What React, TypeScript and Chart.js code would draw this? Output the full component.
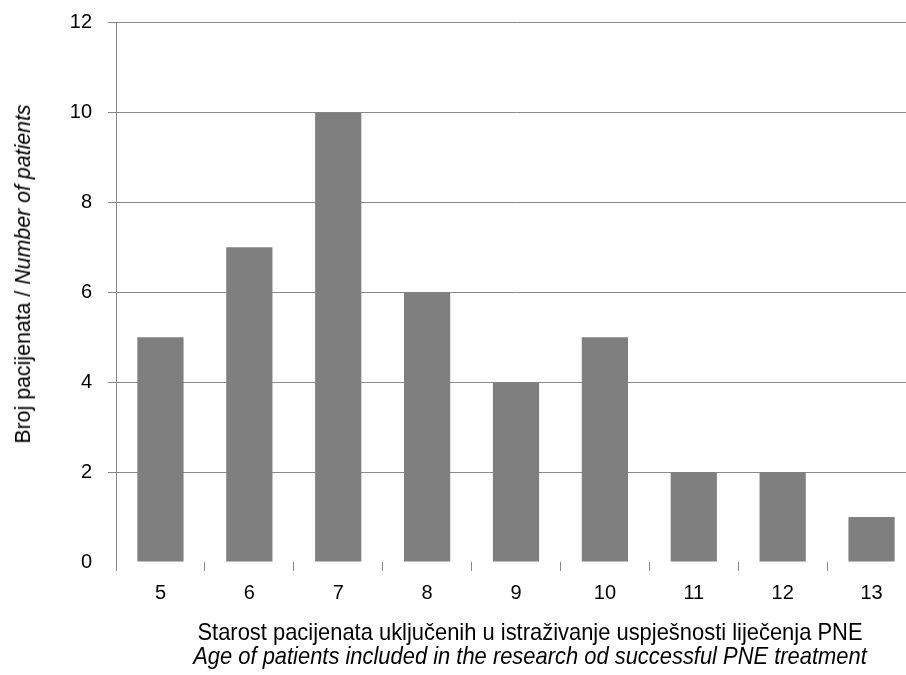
import React, { useEffect, useRef } from "react";
import { Chart, registerables } from "chart.js";

Chart.register(...registerables);

const categories = ["5", "6", "7", "8", "9", "10", "11", "12", "13"];
const patients = [5, 7, 10, 6, 4, 5, 2, 2, 1];
const yTicks = [0, 2, 4, 6, 8, 10, 12];
const yTitleNormal = "Broj pacijenata / ";
const yTitleItalic = "Number of patients";
const xTitleLine1 = "Starost pacijenata uključenih u istraživanje uspješnosti liječenja PNE";
const xTitleLine2 = "Age of patients included in the research od successful PNE treatment";

const FONT = "'Liberation Sans', Arial, sans-serif";
const GRID = "#888888";

export default function App() {
  const ref = useRef<HTMLCanvasElement | null>(null);

  useEffect(() => {
    if (!ref.current) return;
    document.body.style.margin = "0";
    const chart = new Chart(ref.current, {
      type: "bar",
      data: {
        labels: categories,
        datasets: [
          {
            data: patients,
            backgroundColor: "#7f7f7f",
            borderWidth: 0,
            barPercentage: 0.52,
            categoryPercentage: 1,
          },
        ],
      },
      options: {
        animation: false,
        responsive: false,
        devicePixelRatio: 1,
        layout: { padding: { top: 22.5, left: 0, right: 0, bottom: 0 } },
        plugins: { legend: { display: false }, tooltip: { enabled: false } },
        scales: {
          x: {
            offset: true,
            grid: {
              offset: true,
              drawOnChartArea: false,
              drawTicks: true,
              tickLength: 9,
              color: GRID,
              lineWidth: 1,
            },
            border: { display: false },
            ticks: {
              color: "#000",
              padding: 10,
              font: { family: FONT, size: 20 },
            },
            afterFit: (scale: any) => {
              scale.height = 113;
              scale.paddingLeft = 0;
              scale.paddingRight = 0;
            },
          },
          y: {
            min: 0,
            max: 12,
            afterBuildTicks: (scale: any) => {
              scale.ticks = yTicks.map((v) => ({ value: v }));
            },
            grid: {
              color: (ctx: any) => (ctx.tick && ctx.tick.value === 0 ? "rgba(0,0,0,0)" : GRID),
              tickLength: 8,
              lineWidth: 1,
            },
            border: { display: true, color: GRID, width: 1 },
            ticks: {
              color: "#000",
              padding: 16,
              font: { family: FONT, size: 20 },
            },
            afterFit: (scale: any) => {
              scale.width = 116;
              scale.paddingTop = 0;
              scale.paddingBottom = 0;
            },
          },
        },
      },
    });
    return () => chart.destroy();
  }, []);

  return (
    <div
      style={{
        position: "absolute",
        left: 0,
        top: 0,
        width: 906,
        height: 675,
        overflow: "hidden",
        background: "#fff",
      }}
    >
      <canvas
        ref={ref}
        width={916}
        height={675}
        style={{ position: "absolute", left: 0, top: 0, width: 916, height: 675 }}
      />
      <div
        style={{
          position: "absolute",
          left: 23,
          top: 274,
          transform: "translate(-50%, -50%) rotate(-90deg) scaleX(0.97)",
          whiteSpace: "nowrap",
          fontFamily: FONT,
          fontSize: 22,
          lineHeight: "22px",
          color: "#000",
        }}
      >
        <span>{yTitleNormal}</span>
        <span style={{ fontStyle: "italic" }}>{yTitleItalic}</span>
      </div>
      <div
        style={{
          position: "absolute",
          left: 130,
          width: 800,
          top: 620,
          textAlign: "center",
          fontFamily: FONT,
          fontSize: 24,
          lineHeight: "24px",
          color: "#000",
          whiteSpace: "nowrap",
          transform: "scaleX(0.913)",
          transformOrigin: "400px 0",
        }}
      >
        <div>{xTitleLine1}</div>
        <div style={{ fontStyle: "italic" }}>{xTitleLine2}</div>
      </div>
    </div>
  );
}
